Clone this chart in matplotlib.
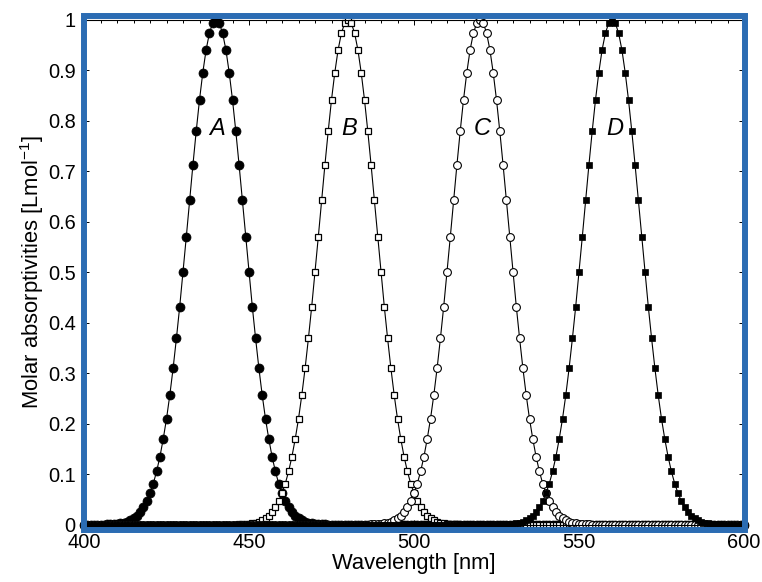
import numpy as np
import matplotlib
matplotlib.use("Agg")
import matplotlib.pyplot as plt
from matplotlib.patches import Rectangle

plt.rcParams['font.family'] = ['Liberation Sans', 'DejaVu Sans']
plt.rcParams['mathtext.fontset'] = 'custom'
plt.rcParams['mathtext.rm'] = 'Liberation Sans'
plt.rcParams['mathtext.it'] = 'Liberation Sans:italic'

# ---- data ----
wavelength = np.arange(400, 601)  # nm, 1 nm sampling

series_A = [0.0] * 7 + [
    0.001, 0.001, 0.001, 0.002, 0.003, 0.004, 0.006, 0.009, 0.013, 0.018, 0.026,
    0.035, 0.047, 0.063, 0.082, 0.106, 0.135, 0.170, 0.210, 0.257, 0.310, 0.369,
    0.432, 0.500, 0.570, 0.642, 0.712, 0.779, 0.841, 0.895, 0.940, 0.973, 0.993,
    1.000,
    0.993, 0.973, 0.940, 0.895, 0.841, 0.779, 0.712, 0.642, 0.570, 0.500, 0.432,
    0.369, 0.310, 0.257, 0.210, 0.170, 0.135, 0.106, 0.082, 0.063, 0.047, 0.035,
    0.026, 0.018, 0.013, 0.009, 0.006, 0.004, 0.003, 0.002, 0.001, 0.001, 0.001,
] + [0.0] * 127

series_B = [0.0] * 47 + [
    0.001, 0.001, 0.001, 0.002, 0.003, 0.004, 0.006, 0.009, 0.013, 0.018, 0.026,
    0.035, 0.047, 0.063, 0.082, 0.106, 0.135, 0.170, 0.210, 0.257, 0.310, 0.369,
    0.432, 0.500, 0.570, 0.642, 0.712, 0.779, 0.841, 0.895, 0.940, 0.973, 0.993,
    1.000,
    0.993, 0.973, 0.940, 0.895, 0.841, 0.779, 0.712, 0.642, 0.570, 0.500, 0.432,
    0.369, 0.310, 0.257, 0.210, 0.170, 0.135, 0.106, 0.082, 0.063, 0.047, 0.035,
    0.026, 0.018, 0.013, 0.009, 0.006, 0.004, 0.003, 0.002, 0.001, 0.001, 0.001,
] + [0.0] * 87

series_C = [0.0] * 87 + [
    0.001, 0.001, 0.001, 0.002, 0.003, 0.004, 0.006, 0.009, 0.013, 0.018, 0.026,
    0.035, 0.047, 0.063, 0.082, 0.106, 0.135, 0.170, 0.210, 0.257, 0.310, 0.369,
    0.432, 0.500, 0.570, 0.642, 0.712, 0.779, 0.841, 0.895, 0.940, 0.973, 0.993,
    1.000,
    0.993, 0.973, 0.940, 0.895, 0.841, 0.779, 0.712, 0.642, 0.570, 0.500, 0.432,
    0.369, 0.310, 0.257, 0.210, 0.170, 0.135, 0.106, 0.082, 0.063, 0.047, 0.035,
    0.026, 0.018, 0.013, 0.009, 0.006, 0.004, 0.003, 0.002, 0.001, 0.001, 0.001,
] + [0.0] * 47

series_D = [0.0] * 127 + [
    0.001, 0.001, 0.001, 0.002, 0.003, 0.004, 0.006, 0.009, 0.013, 0.018, 0.026,
    0.035, 0.047, 0.063, 0.082, 0.106, 0.135, 0.170, 0.210, 0.257, 0.310, 0.369,
    0.432, 0.500, 0.570, 0.642, 0.712, 0.779, 0.841, 0.895, 0.940, 0.973, 0.993,
    1.000,
    0.993, 0.973, 0.940, 0.895, 0.841, 0.779, 0.712, 0.642, 0.570, 0.500, 0.432,
    0.369, 0.310, 0.257, 0.210, 0.170, 0.135, 0.106, 0.082, 0.063, 0.047, 0.035,
    0.026, 0.018, 0.013, 0.009, 0.006, 0.004, 0.003, 0.002, 0.001, 0.001, 0.001,
] + [0.0] * 7

series_names = ['A', 'B', 'C', 'D']
label_x = [440.4, 480.4, 520.8, 560.9]
label_y = [0.771, 0.771, 0.771, 0.771]

x_ticks = [400, 450, 500, 550, 600]
y_ticks = [0, 0.1, 0.2, 0.3, 0.4, 0.5, 0.6, 0.7, 0.8, 0.9, 1]
y_tick_labels = ['0', '0.1', '0.2', '0.3', '0.4', '0.5', '0.6', '0.7', '0.8', '0.9', '1']

# ---- figure ----
W, H = 762, 582
fig = plt.figure(figsize=(W / 100, H / 100), dpi=100)
ax = fig.add_axes([84 / W, 57 / H, 660 / W, 505.5 / H])

styles = [
    dict(marker='o', ms=6.5, mfc='k', mec='k', mew=0.5),
    dict(marker='s', ms=4.4, mfc='w', mec='k', mew=0.9),
    dict(marker='o', ms=5.6, mfc='w', mec='k', mew=0.8),
    dict(marker='s', ms=4.3, mfc='k', mec='k', mew=0.5),
]
for ys, st in zip([series_A, series_B, series_C, series_D], styles):
    ax.plot(wavelength, ys, '-', color='k', lw=0.8, clip_on=False, **st)

for name, lx, ly in zip(series_names, label_x, label_y):
    ax.text(lx, ly, name, fontsize=17, style='italic', ha='center', va='baseline')

ax.set_xlim(400, 600)
ax.set_ylim(0, 1)
ax.set_xticks(x_ticks)
ax.set_xticks(np.arange(400, 601, 5), minor=True)
ax.set_yticks(y_ticks)
ax.set_yticklabels(y_tick_labels)
ax.tick_params(which='both', direction='in', top=True, right=True,
               width=0.7, labelsize=14.4, pad=6)
ax.tick_params(which='major', length=3.5)
ax.tick_params(which='minor', length=2.5)
for sp in ax.spines.values():
    sp.set_linewidth(0.8)
    sp.set_color('k')

fig.text(32 / W, 1 - 272 / H, 'Molar absorptivities [Lmol$^{-1}$]', rotation=90,
         ha='center', va='center', fontsize=15.8)
fig.text(414 / W, 1 - 563 / H, 'Wavelength [nm]', ha='center', va='center', fontsize=15.8)

# blue frame around the plot area
frame = Rectangle((84 / W, 1 - 529.7 / H), (745 - 84) / W, (529.7 - 16) / H,
                  transform=fig.transFigure, fill=False, ec='#2b6cb3', lw=4.3,
                  joinstyle='miter', zorder=10)
fig.add_artist(frame)

fig.savefig('out.png', dpi=100)
